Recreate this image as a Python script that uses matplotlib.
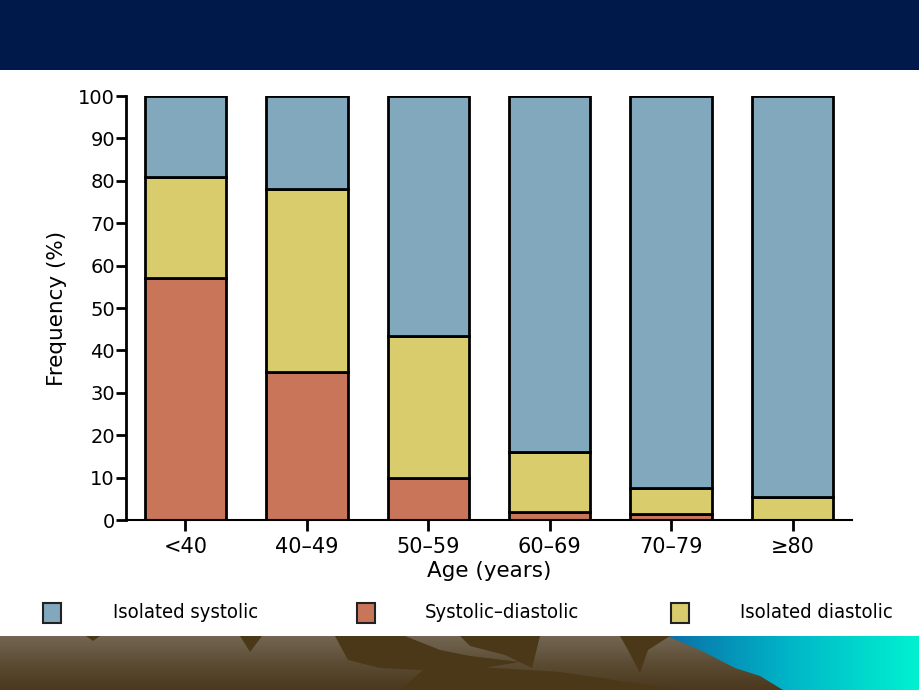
import matplotlib.pyplot as plt
from matplotlib.patches import Rectangle, Polygon
from matplotlib.colors import LinearSegmentedColormap
import numpy as np

# data (%)
ages = ['<40', '40\u201349', '50\u201359', '60\u201369', '70\u201379', '\u226580']
systolic_diastolic = [57, 35, 10, 2, 1.5, 0]
isolated_diastolic = [24, 43, 33.5, 14, 6, 5.5]
isolated_systolic = [19, 22, 56.5, 84, 92.5, 94.5]

col_isys = '#82a8bd'
col_sd = '#c8755a'
col_idia = '#d9cc6c'

fig = plt.figure(figsize=(9.2, 6.9), dpi=100)
fig.patch.set_facecolor('white')

# slide banner on top
fig.patches.append(Rectangle((0, 1 - 70 / 690), 1, 70 / 690, transform=fig.transFigure,
                             facecolor='#00194b', edgecolor='none', zorder=0))

# decorative band at the bottom (pixel coordinates of the slide)
band_top = 636
gax = fig.add_axes([0, 0, 1, (690 - band_top) / 690])
gax.set_xlim(0, 920)
gax.set_ylim(690, band_top)
gax.set_axis_off()
brown = LinearSegmentedColormap.from_list('b', ['#736652', '#5c4c34', '#4a391c'])
gax.imshow(np.linspace(0, 1, 64)[:, None], extent=[0, 920, 690, band_top],
           aspect='auto', cmap=brown, origin='upper')
dark = '#4a3819'
shapes = [
    [(86, 636), (100, 636), (93, 641)],
    [(240, 636), (262, 636), (250, 652)],
    [(335, 636), (405, 636), (440, 650), (470, 656), (520, 662), (460, 672), (380, 668), (348, 660)],
    [(460, 636), (540, 636), (532, 668), (505, 655), (470, 646)],
    [(430, 664), (560, 672), (680, 690), (400, 690)],
    [(620, 636), (670, 636), (648, 650), (640, 673), (628, 650)],
]
for s in shapes:
    gax.add_patch(Polygon(s, closed=True, facecolor=dark, edgecolor='none'))
cyan = Polygon([(667, 636), (920, 636), (920, 690), (783, 690), (760, 676),
                (735, 668), (700, 650)], closed=True, facecolor='none', edgecolor='none')
gax.add_patch(cyan)
cmap_c = LinearSegmentedColormap.from_list('c', ['#0a6fa8', '#00b8c8', '#00f2d0'])
img = gax.imshow(np.linspace(0, 1, 256)[None, :], extent=[667, 920, 690, band_top],
                 aspect='auto', cmap=cmap_c)
img.set_clip_path(cyan)
gax.set_xlim(0, 920)
gax.set_ylim(690, band_top)

ax = fig.add_axes([126 / 920, 1 - 520 / 690, (852 - 126) / 920, (520 - 96) / 690])
x = np.arange(len(ages))
w = 0.67
ax.bar(x, systolic_diastolic, w, color=col_sd, edgecolor='black', linewidth=2)
ax.bar(x, isolated_diastolic, w, bottom=systolic_diastolic, color=col_idia,
       edgecolor='black', linewidth=2)
bottom2 = [a + b for a, b in zip(systolic_diastolic, isolated_diastolic)]
ax.bar(x, isolated_systolic, w, bottom=bottom2, color=col_isys,
       edgecolor='black', linewidth=2)

ax.set_xlim(-0.49, 5.49)
ax.set_ylim(0, 100)
ax.set_yticks(range(0, 101, 10))
ax.set_xticks(x)
ax.set_xticklabels(ages)
ax.spines['top'].set_visible(False)
ax.spines['right'].set_visible(False)
ax.spines['left'].set_linewidth(2)
ax.spines['bottom'].set_linewidth(1.5)
ax.tick_params(axis='y', length=7, width=2, labelsize=14, pad=1)
ax.tick_params(axis='x', length=8, width=2, labelsize=15, pad=4)
ax.set_ylabel('Frequency (%)', fontsize=15.5, labelpad=8)
ax.set_xlabel('Age (years)', fontsize=15.5, labelpad=3)
ax.patch.set_alpha(0)

# legend row
ly = 1 - 613 / 690
for sx, tx, c, lab in [(52, 113, col_isys, 'Isolated systolic'),
                       (366, 425, col_sd, 'Systolic\u2013diastolic'),
                       (680, 740, col_idia, 'Isolated diastolic')]:
    fig.patches.append(Rectangle(((sx - 9) / 920, ly - 10 / 690), 18 / 920, 20 / 690,
                                 transform=fig.transFigure, facecolor=c,
                                 edgecolor='#222222', linewidth=1.5))
    fig.text(tx / 920, ly, lab, fontsize=14.5, va='center', ha='left',
             family='DejaVu Sans', fontstretch='condensed')

fig.savefig('out.png', dpi=100)
